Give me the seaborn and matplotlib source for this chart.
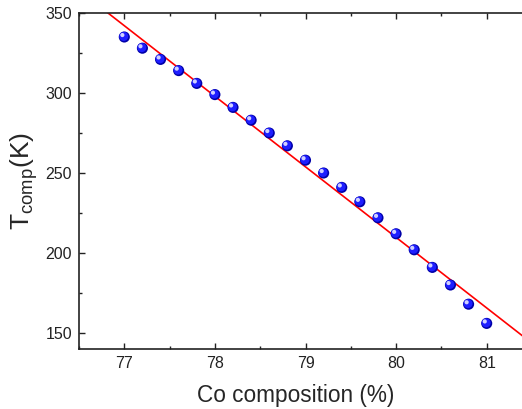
import numpy as np
import pandas as pd
import matplotlib
matplotlib.use("Agg")
import matplotlib.pyplot as plt
from matplotlib.transforms import offset_copy
from matplotlib.ticker import MultipleLocator
import seaborn as sns

sns.set_style("ticks")
plt.rcParams["font.family"] = ["Liberation Sans", "DejaVu Sans"]

# Co composition (%) and compensation temperature (K)
co_pct = [77.0, 77.2, 77.4, 77.6, 77.8, 78.0, 78.2, 78.4, 78.6, 78.8, 79.0,
          79.2, 79.4, 79.6, 79.8, 80.0, 80.2, 80.4, 80.6, 80.8, 81.0]
t_comp = [335, 328, 321, 314, 306, 299, 291, 283, 275, 267, 258,
          250, 241, 232, 222, 212, 202, 191, 180, 168, 156]

df = pd.DataFrame({"co": co_pct, "t": t_comp})

fig = plt.figure(figsize=(5.22, 4.09), dpi=100)
ax = fig.add_axes([79 / 522, 60 / 409, 453 / 522, 336 / 409])
ax.set_xlim(76.5, 81.5)
ax.set_ylim(140, 350)

# linear fit across the whole axis
sns.regplot(data=df, x="co", y="t", ax=ax, scatter=False, ci=None, truncate=False,
            color="red", line_kws={"lw": 1.2, "zorder": 2})

# shaded "sphere" markers
sns.scatterplot(data=df, x="co", y="t", ax=ax, s=64, color="#0000a8",
                edgecolor="none", zorder=3, legend=False)
mid = offset_copy(ax.transData, fig=fig, x=-0.4, y=0.4, units="points")
ax.scatter(df["co"], df["t"], s=42, color="#1e1eff", edgecolor="none",
           transform=mid, zorder=4)
hi = offset_copy(ax.transData, fig=fig, x=-1.4, y=1.4, units="points")
ax.scatter(df["co"], df["t"], s=9, color="#d0d0ff", edgecolor="none",
           transform=hi, zorder=5)

ax.xaxis.set_major_locator(MultipleLocator(1))
ax.xaxis.set_minor_locator(MultipleLocator(0.5))
ax.yaxis.set_major_locator(MultipleLocator(50))
ax.yaxis.set_minor_locator(MultipleLocator(25))
ax.tick_params(which="both", direction="in", top=True, right=False,
               width=1.0, color="#222222", labelsize=11.5, labelcolor="#222222")
ax.tick_params(which="major", length=4.5, pad=5)
ax.tick_params(which="minor", length=2.5)

for side in ["left", "bottom", "top"]:
    ax.spines[side].set_linewidth(1.2)
    ax.spines[side].set_color("#222222")
ax.spines["right"].set_visible(False)

ax.set_xlabel("Co composition (%)", fontsize=16.3)
ax.xaxis.set_label_coords(0.479, -0.105)
ax.set_ylabel("T$_{\\mathregular{comp}}$(K)", fontsize=19, labelpad=4)

fig.savefig("out.png", dpi=100)
